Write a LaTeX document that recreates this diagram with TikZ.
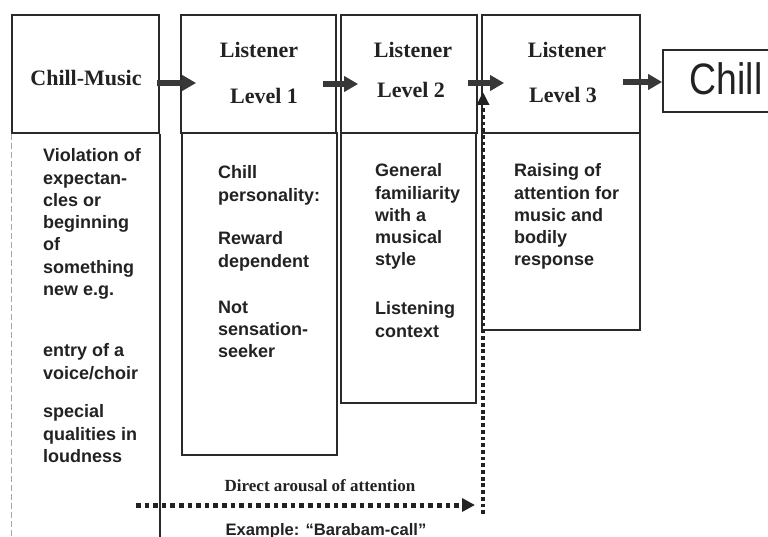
\documentclass[tikz,border=0pt]{standalone}
\usepackage{fontspec}
\usepackage{graphicx}
\setmainfont{Liberation Serif}
\setsansfont{Liberation Sans}
\usetikzlibrary{arrows.meta,calc}
\definecolor{ink}{HTML}{222222}
\definecolor{edge}{HTML}{2A2A2A}
\begin{document}
\begin{tikzpicture}[x=1pt,y=-1pt,
  headbox/.style={draw=edge,line width=1.7pt,inner sep=0pt,minimum height=118pt},
  bodybox/.style={draw=edge,line width=1.3pt,inner sep=0pt},
  headtext/.style={font=\fontsize{22}{26}\selectfont\bfseries,text=ink,inner sep=0pt},
  bodytext/.style={font=\fontsize{18}{22.3}\selectfont\sffamily\bfseries,text=ink,
    align=left,anchor=north west,inner sep=0pt},
  bigarrow/.style={draw=ink!90,line width=5.5pt,-{Triangle[length=14pt,width=15pt]}},
  dotarrow/.style={draw=ink,line width=5pt,dash pattern=on 4.6pt off 4pt,
    -{Triangle[length=13pt,width=13pt]}},
  vdotarrow/.style={draw=ink,line width=4.8pt,dash pattern=on 3.8pt off 2.9pt,
    -{Triangle[length=13pt,width=12pt]}},
  caption/.style={text=ink,inner sep=0pt}]
\useasboundingbox (0,0) rectangle (768,537);

% header boxes
\node[headbox,minimum width=147pt] (h0) at (85.5,74) {};
\node[headbox,minimum width=155pt] (h1) at (258.5,74) {};
\node[headbox,minimum width=136pt] (h2) at (409,74) {};
\node[headbox,minimum width=158pt] (h3) at (561,74) {};
\node[draw=edge,line width=1.7pt,inner sep=0pt,minimum width=127pt,minimum height=62pt] (chill) at (726.5,81) {};

% lower boxes
\node[bodybox,minimum width=155pt,minimum height=322pt] (b1) at (259.5,294) {};
\node[bodybox,minimum width=135pt,minimum height=270pt] (b2) at (408.5,268) {};
\node[bodybox,minimum width=158pt,minimum height=197pt] (b3) at (561,231.5) {};
\draw[gray!70,line width=0.8pt,dash pattern=on 6pt off 3pt] (h0.south west) -- (h0.south west |- 0,537);
\draw[edge,line width=1.3pt] (h0.south east) -- (h0.south east |- 0,537);

% arrows between the stages
\draw[bigarrow] ($(h0.east)+(-3,9)$) -- ($(h1.west)+(16,9)$);
\draw[bigarrow] ($(h1.east)+(-14,10)$) -- ($(h2.west)+(18,10)$);
\draw[bigarrow] ($(h2.east)+(-10,9)$) -- ($(h3.west)+(23,9)$);
\draw[bigarrow] ($(h3.east)+(-18,8)$) -- ($(chill.west)+(0,1)$);

% header labels
\node[headtext] (t0) at (86,78) {Chill-Music};
\node[headtext] (t1a) at (259,50) {Listener};
\node[headtext] (t1b) at (264,96) {Level 1};
\node[headtext] (t2a) at (413,50) {Listener};
\node[headtext] (t2b) at (411,90) {Level 2};
\node[headtext] (t3a) at (567,50) {Listener};
\node[headtext] (t3b) at (563,95) {Level 3};
\node[text=ink,inner sep=0pt,anchor=base,font=\fontsize{44}{48}\selectfont\sffamily] (tc) at (726,95) {\scalebox{0.85}[1]{Chill}};

% column texts
\node[bodytext] (c0a) at (43,148.5) {Violation of\\expectan-\\cles or\\beginning\\of\\something\\new e.g.};
\node[bodytext] (c0b) at (43,343.5) {entry of a\\voice/choir};
\node[bodytext] (c0c) at (43,404.5) {special\\qualities in\\loudness};
\node[bodytext] (c1a) at (218,165.5) {Chill\\personality:};
\node[bodytext] (c1b) at (218,231.5) {Reward\\dependent};
\node[bodytext] (c1c) at (218,300.5) {Not\\sensation-\\seeker};
\node[bodytext] (c2a) at (375,163.5) {General\\familiarity\\with a\\musical\\style};
\node[bodytext] (c2b) at (375,301.5) {Listening\\context};
\node[bodytext] (c3a) at (514,163.5) {Raising of\\attention for\\music and\\bodily\\response};

% direct route to level 3
\coordinate (vstart) at (483,514);
\coordinate (vend) at (483,92);
\coordinate (hstart) at (136,505);
\coordinate (hend) at (475,505);
\draw[vdotarrow] (vstart) -- (vend);
\draw[dotarrow] (hstart) -- (hend);
\node[caption,font=\fontsize{17}{19}\selectfont\bfseries] (l1) at (320,486) {Direct arousal of attention};
\node[caption,anchor=base,font=\fontsize{16.6}{18}\selectfont\sffamily\bfseries] (l2) at (326,535) {Example: “Barabam-call”};
\end{tikzpicture}
\end{document}
